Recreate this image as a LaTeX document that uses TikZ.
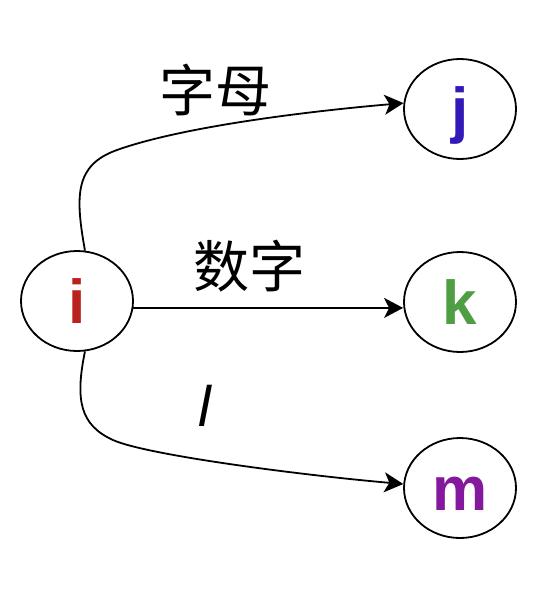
\documentclass[tikz,border=0pt]{standalone}
\usepackage{fontspec}
\setmainfont{Liberation Sans}
\newfontfamily\cjk{Noto Sans CJK SC}
\usetikzlibrary{shapes.geometric,arrows.meta}
\definecolor{cI}{HTML}{B8231D}
\definecolor{cJ}{HTML}{3319B8}
\definecolor{cK}{HTML}{4E9E42}
\definecolor{cM}{HTML}{85199E}
\tikzset{
  vert/.style={ellipse, draw=black, line width=1.8pt, fill=white,
    minimum width=112pt, minimum height=100pt, inner sep=0pt,
    font=\fontsize{62}{62}\selectfont\bfseries, text height=44pt, text depth=0pt},
  conn/.style={line width=1.8pt, -{Stealth[length=19pt,width=20pt,inset=5pt]}},
  lbl/.style={font=\fontsize{56}{56}\selectfont, inner sep=0pt}
}
\begin{document}
\begin{tikzpicture}[x=1pt,y=-1pt]
\useasboundingbox (0,0) rectangle (554,592);
\node[vert, text=cI] (i) at (77,301) {i};
\node[vert, text=cJ] (j) at (460,109) {j};
\node[vert, text=cK] (k) at (460,302) {k};
\node[vert, text=cM] (m) at (460,488) {m};
\draw[conn] (i.81) .. controls (75,195) and (75,165) .. (117,150)
  .. controls (180,127.5) and (300,112) .. (j.174);
\draw[conn] (i.-7) -- (i.-7 -| k.west);
\draw[conn] (i.-81) .. controls (75,400) and (80,425) .. (113,440)
  .. controls (146,455) and (300,475) .. (m.176);
\node[lbl] (la) at (215,90) {\cjk 字母};
\node[lbl] (lb) at (249,266) {\cjk 数字};
\node[lbl, font=\fontsize{57}{57}\selectfont\itshape] (lc) at (205,406) {l};
\end{tikzpicture}
\end{document}
